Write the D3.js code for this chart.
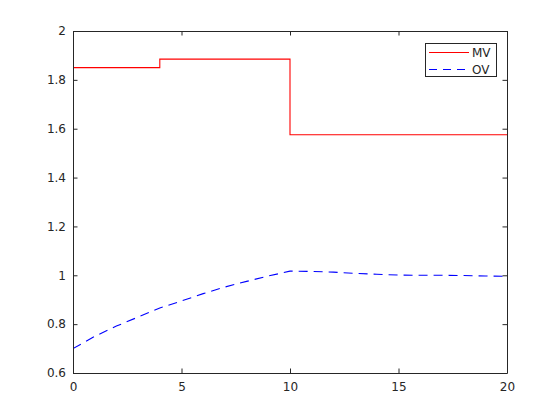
<!DOCTYPE html>
<html>
<head>
<meta charset="utf-8">
<script src="https://cdn.jsdelivr.net/npm/d3@7"></script>
<style>
  html, body { margin: 0; padding: 0; background: #fff; }
  svg { display: block; }
  text { font-family: "DejaVu Sans", sans-serif; fill: #262626; }
</style>
</head>
<body>
<svg id="chart" width="560" height="420"></svg>
<script>
// ---- data ----
const mvTime = [0, 4, 10, 20];
const mvValue = [1.85, 1.885, 1.575, 1.575];

const ovTime = [0, 1, 2, 3, 4, 5, 6, 7, 8, 9, 10, 11, 12, 13, 14, 15, 16, 17, 18, 19, 20];
const ovValue = [0.700, 0.750, 0.792, 0.829, 0.866, 0.895, 0.925, 0.952, 0.975, 0.997,
                 1.017, 1.016, 1.013, 1.008, 1.004, 1.001, 1.000, 1.000, 0.999, 0.997, 0.996];

const xTicks = [0, 5, 10, 15, 20];
const yTicks = [0.6, 0.8, 1, 1.2, 1.4, 1.6, 1.8, 2];
const seriesNames = ["MV", "OV"];

// ---- layout ----
const pLeft = 73, pRight = 507, pTop = 31, pBottom = 373;
const svg = d3.select("#chart");
const x = d3.scaleLinear().domain([0, 20]).range([pLeft, pRight]);
const y = d3.scaleLinear().domain([0.6, 2]).range([pBottom, pTop]);
const axisColor = "#262626";
const tickLen = 4.5;
const fontSize = 12;

svg.append("rect").attr("x", pLeft).attr("y", pTop)
  .attr("width", pRight - pLeft).attr("height", pBottom - pTop).attr("fill", "#fff");

svg.append("clipPath").attr("id", "clip").append("rect")
  .attr("x", pLeft).attr("y", pTop - 1).attr("width", pRight - pLeft).attr("height", pBottom - pTop + 2);

const mvData = mvTime.map((t, i) => [t, mvValue[i]]);
const ovData = ovTime.map((t, i) => [t, ovValue[i]]);

const stepLine = d3.line().x(d => x(d[0])).y(d => y(d[1])).curve(d3.curveStepAfter);
const line = d3.line().x(d => x(d[0])).y(d => y(d[1]));

const g = svg.append("g").attr("clip-path", "url(#clip)");
g.append("path").datum(mvData).attr("d", stepLine)
  .attr("fill", "none").attr("stroke", "#ff0000").attr("stroke-width", 1.1);
g.append("path").datum(ovData).attr("d", line)
  .attr("fill", "none").attr("stroke", "#0000ff").attr("stroke-width", 1.1)
  .attr("stroke-dasharray", "9,6");

const xAxisB = d3.axisBottom(x).tickValues(xTicks).tickFormat(d3.format("")).tickSizeInner(-tickLen).tickSizeOuter(0).tickPadding(9);
const xAxisT = d3.axisTop(x).tickValues(xTicks).tickFormat("").tickSizeInner(-tickLen).tickSizeOuter(0);
const yAxisL = d3.axisLeft(y).tickValues(yTicks).tickFormat(d3.format("")).tickSizeInner(-tickLen).tickSizeOuter(0).tickPadding(7);
const yAxisR = d3.axisRight(y).tickValues(yTicks).tickFormat("").tickSizeInner(-tickLen).tickSizeOuter(0);

function style(sel) {
  sel.selectAll("path").attr("stroke", axisColor).attr("stroke-width", 1);
  sel.selectAll("line").attr("stroke", axisColor).attr("stroke-width", 1);
  sel.selectAll("text").attr("font-size", fontSize).attr("fill", axisColor)
    .attr("font-family", "DejaVu Sans, sans-serif");
}
svg.append("g").attr("transform", `translate(0,${pBottom})`).call(xAxisB).call(style);
svg.append("g").attr("transform", `translate(0,${pTop})`).call(xAxisT).call(style);
svg.append("g").attr("transform", `translate(${pLeft},0)`).call(yAxisL).call(style);
svg.append("g").attr("transform", `translate(${pRight},0)`).call(yAxisR).call(style);

// legend
const lg = svg.append("g");
lg.append("rect").attr("x", 425.5).attr("y", 43.5).attr("width", 71).attr("height", 33)
  .attr("fill", "#fff").attr("stroke", axisColor).attr("stroke-width", 1);
const legendColors = ["#ff0000", "#0000ff"];
const legendDash = ["none", "8,6"];
seriesNames.forEach((name, i) => {
  const ly = 52.5 + i * 17;
  lg.append("line").attr("x1", 429).attr("x2", 469).attr("y1", ly).attr("y2", ly)
    .style("stroke", legendColors[i]).attr("stroke-width", 1.1)
    .attr("stroke-dasharray", legendDash[i]);
  lg.append("text").attr("x", 472).attr("y", ly).attr("dy", "0.36em")
    .attr("font-size", fontSize).text(name);
});
</script>
</body>
</html>
